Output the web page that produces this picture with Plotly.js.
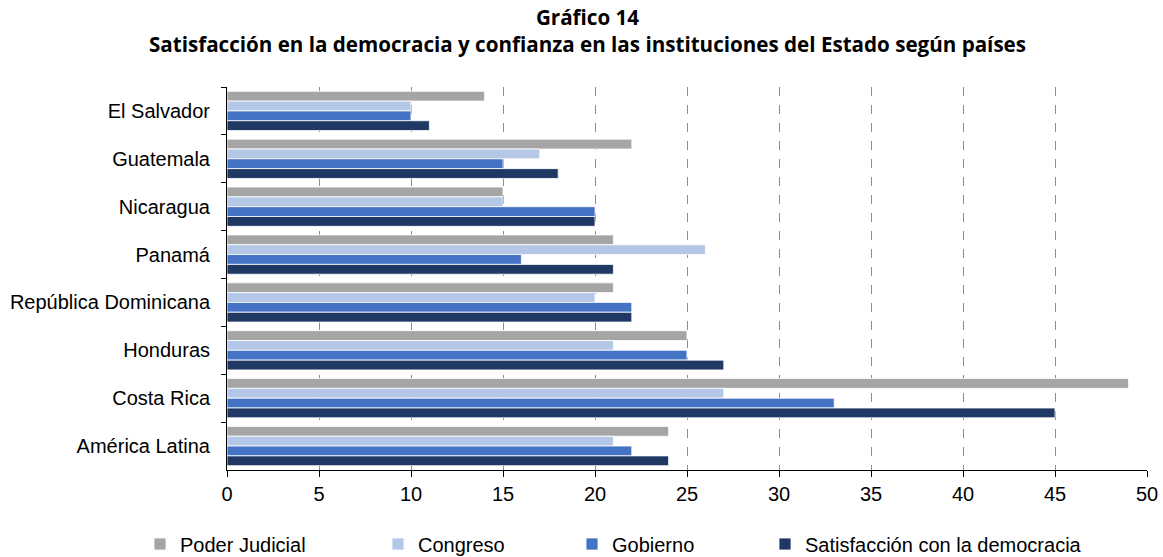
<!DOCTYPE html>
<html>
<head>
<meta charset="utf-8">
<script src="https://cdn.plot.ly/plotly-3.0.1.min.js"></script>
<style>html,body{margin:0;padding:0;background:#fff;}#chart{width:1163px;height:557px;}</style>
</head>
<body>
<div id="chart"></div>
<script>
const categories = ["El Salvador", "Guatemala", "Nicaragua", "Panamá", "República Dominicana", "Honduras", "Costa Rica", "América Latina"];
const seriesNames = ["Poder Judicial", "Congreso", "Gobierno", "Satisfacción con la democracia"];
const poderJudicial = [14, 22, 15, 21, 21, 25, 49, 24];
const congreso = [10, 17, 15, 26, 20, 21, 27, 21];
const gobierno = [10, 15, 20, 16, 22, 25, 33, 22];
const satisfaccion = [11, 18, 20, 21, 22, 27, 45, 24];
const xTicks = [0, 5, 10, 15, 20, 25, 30, 35, 40, 45, 50];

const colors = ["#A5A5A5", "#B4C7E7", "#4472C4", "#203864"];
const seriesValues = [poderJudicial, congreso, gobierno, satisfaccion];
const legendIds = ["legend", "legend2", "legend3", "legend4"];
const legendX = [140, 378, 572, 765];

const W = 1163, H = 557;
const margin = {l: 227, r: 16, t: 87, b: 87, autoexpand: false};
const pw = W - margin.l - margin.r, ph = H - margin.t - margin.b;

const traces = seriesValues.map((vals, i) => ({
  type: "bar",
  orientation: "h",
  name: seriesNames[i],
  x: vals,
  y: categories,
  marker: {color: colors[i], line: {color: "#ffffff", width: 0.8}},
  legend: legendIds[i],
  hoverinfo: "x+name"
}));

const fontFam = "Liberation Sans, Arial, sans-serif";
const layout = {
  width: W, height: H,
  margin: margin,
  paper_bgcolor: "#fff", plot_bgcolor: "#fff",
  barmode: "group",
  bargap: 0.18,
  bargroupgap: 0,
  title: {
    text: "<b>Gráfico 14</b><br><b>Satisfacción en la democracia y confianza en las instituciones del Estado según países</b>",
    font: {family: "Open Sans, sans-serif", size: 20.6, color: "#000"},
    xref: "container", x: 587.5 / W, xanchor: "center",
    yref: "container", y: 1 - 25 / H, yanchor: "top"
  },
  xaxis: {
    range: [0, 50],
    tickvals: xTicks,
    ticktext: xTicks.map(String),
    showgrid: true,
    gridcolor: "#8c8c8c",
    griddash: "dash",
    gridwidth: 1,
    zeroline: false,
    showline: true,
    linecolor: "#000",
    linewidth: 1,
    ticks: "outside",
    ticklen: 6,
    tickcolor: "#000",
    tickfont: {family: fontFam, size: 20, color: "#000"},
    fixedrange: true
  },
  yaxis: {
    autorange: "reversed",
    type: "category",
    showline: true,
    linecolor: "#000",
    linewidth: 1,
    ticks: "outside",
    tickson: "boundaries",
    ticklen: 5,
    tickcolor: "#000",
    showgrid: false,
    tickfont: {family: fontFam, size: 20, color: "#000"},
    ticklabelstandoff: 12,
    fixedrange: true
  },
  showlegend: true
};
legendIds.forEach((id, i) => {
  layout[id] = {
    orientation: "h",
    x: (legendX[i] - margin.l) / pw,
    xanchor: "left",
    y: (H - margin.b - 544) / ph,
    yanchor: "middle",
    font: {family: fontFam, size: 20, color: "#000"},
    bgcolor: "rgba(0,0,0,0)",
    borderwidth: 0
  };
});

Plotly.newPlot("chart", traces, layout, {displayModeBar: false, staticPlot: true});
</script>
</body>
</html>
